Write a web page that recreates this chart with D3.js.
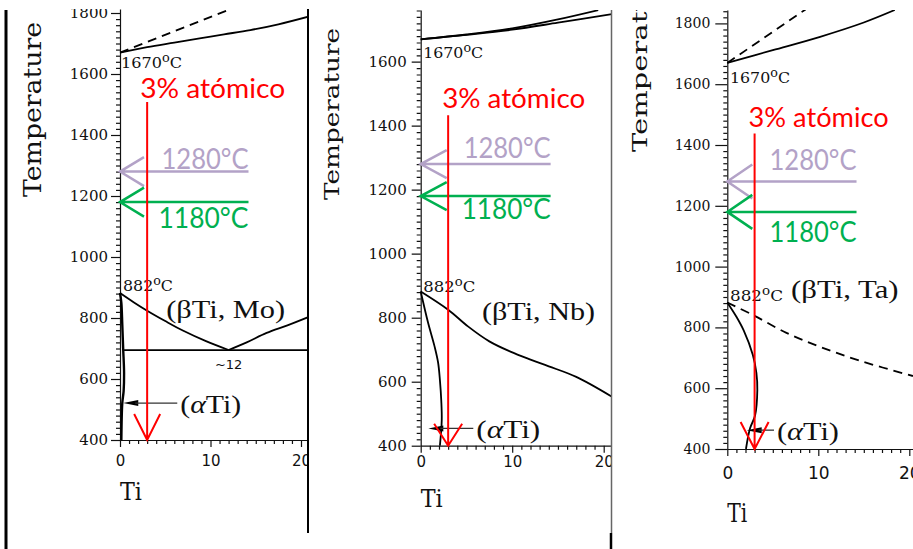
<!DOCTYPE html>
<html lang="es">
<head>
<meta charset="utf-8">
<title>Diagramas de fase Ti–Mo, Ti–Nb, Ti–Ta</title>
<script src="https://cdn.jsdelivr.net/npm/d3@7"></script>
<style>
  html, body { margin: 0; padding: 0; background: #fff; }
  svg { display: block; }
</style>
</head>
<body>
<svg id="chart" width="913" height="549"></svg>
<script>
// ---------- data ----------
// Axis ticks: temperature (°C) and solute content (at.%)
const tempTicks = [400, 600, 800, 1000, 1200, 1400, 1600, 1800];
const compTicks = [0, 10, 20];

const solutes = ["Mo", "Nb", "Ta"];
const betaLabels = ["(βTi, Mo)", "(βTi, Nb)", "(βTi, Ta)"];
const betaLabelAt = [[5.1, 799], [6.7, 793], [7.0, 896]];       // [at.%, °C]
const alphaPointerAt = [[0.36, 521], [0.83, 454], [2.13, 462]]; // [at.%, °C]

const meltTemp = 1670;      // melting point of pure Ti
const transusTemp = 882;    // α/β transus of pure Ti
const eutectoidMo = [12, 695];

const heatTemps = [1280, 1180];
const heatLabels = ["1280°C", "1180°C"];
const heatColors = ["#b3a2c7", "#00b050"];
const heatArrowEnd = 14.2;  // at.%

const alloyContent = 3;     // at.%
const alloyLabel = "3% atómico";
const alloyLineTop = [1508, 1433, 1438];

// Ti–Mo
const moLower = [[0,1670],[3,1688],[6,1703],[8.8,1717],[11.5,1730],[14.4,1744],[17.5,1763],[20.8,1788]];
const moUpper = [[0,1670],[11.8,1808]];
const moBetaTransus = [[0,882],[1.5,852],[3,824],[5,790],[7,758],[9.5,724],[12,695]];
const moBetaRise = [[12,695],[14,720],[16.2,751],[18.5,776],[20.8,803]];
const moEutectoidLine = [[0.45,695],[20.8,695]];
const moAlphaSolvus = [[0,882],[0.15,850],[0.25,780],[0.35,700],[0.45,620],[0.4,560],[0.25,520],[0.15,400]];

// Ti–Nb
const nbUpper = [[0,1670],[5,1685],[10,1704],[15,1732],[19.4,1761]];
const nbLower = [[0,1670],[5,1684],[10,1700],[15,1722],[20.9,1749]];
const nbBetaTransus = [[0,882],[3,825],[5.2,772],[7.5,726],[9.8,694],[12,669],[14,648],[17,615],[20.9,553]];
const nbAlphaSolvus = [[0,882],[0.8,785],[1.5,712],[1.9,660],[2.1,605],[2.25,540],[2.3,480],[2.1,400]];

// Ti–Ta
const taUpper = [[0,1670],[8.6,1846]];
const taLower = [[0,1670],[5,1712],[10.2,1756],[15,1803],[18.4,1844]];
const taBetaTransus = [[0,882],[3,838],[6.5,782],[10.2,736],[14.6,690],[20.4,640]];
const taAlphaSolvus = [[0,882],[1,835],[1.8,790],[2.8,710],[3.2,650],[3.3,594],[3.05,510],[2.5,468],[2.05,400]];

// curve table for each diagram
const panelCurves = [
  [
    { pts: moLower }, { pts: moUpper, dash: "9,6" },
    { pts: moBetaTransus }, { pts: moBetaRise },
    { pts: moEutectoidLine, straight: true }, { pts: moAlphaSolvus, width: 2.4 }
  ],
  [
    { pts: nbUpper }, { pts: nbLower },
    { pts: nbBetaTransus }, { pts: nbAlphaSolvus }
  ],
  [
    { pts: taLower }, { pts: taUpper, dash: "9,6" },
    { pts: taBetaTransus, dash: "9,6" }, { pts: taAlphaSolvus }
  ]
];

// ---------- layout ----------
const SERIF_AXIS = "'DejaVu Serif', serif";
const SERIF_TEXT = "'Liberation Serif', 'Times New Roman', serif";
const SANS_AXIS = "'DejaVu Sans', sans-serif";
const SANS_NOTE = "Lato, 'Open Sans', sans-serif";

const panels = [
  { x0: 120, x20: 301, y400: 440, y1800: 13, top: 9, left: 0, right: 308,
    yTickFont: 15, yTickLen: 9, yTickPad: 3, xTickFont: 15, xTickLen: 7, xTickPad: 8,
    titleX: 41, titleY: 109.5, titleFont: 25, titleLen: 175,
    tiY: 500, tiFont: 24, tiLen: 22,
    meltDx: 1, meltDy: 15.5, meltLen: 61, transusDx: 3, transusDy: -1.5, transusLen: 50,
    betaFont: 26, betaLen: 119,
    alphaFont: 26, alphaLen: 61, pointerLen: 54,
    alloyFont: 27, alloyLen: 145, alloyDx: -7, alloyDy: -4,
    heatFont: 28, heatLens: [87, 90], heatDy: [-3, 26], headDx: 24, headDy: 14.5,
    redDx: 13, redDy: 26 },
  { x0: 420.7, x20: 603.7, y400: 445.7, y1800: -2.3, top: 10, left: 310, right: 611.5,
    yTickFont: 15, yTickLen: 9, yTickPad: 5, xTickFont: 15, xTickLen: 7, xTickPad: 4,
    titleX: 338.5, titleY: 114, titleFont: 20, titleLen: 172,
    tiY: 506.7, tiFont: 24, tiLen: 22,
    meltDx: 2.5, meltDy: 18.7, meltLen: 60, transusDx: 2.6, transusDy: 1, transusLen: 52,
    betaFont: 26, betaLen: 113,
    alphaFont: 26, alphaLen: 64, pointerLen: 45,
    alloyFont: 27, alloyLen: 143, alloyDx: -6, alloyDy: -7,
    heatFont: 28, heatLens: [87, 89], heatDy: [-6.3, 23.3], headDx: 26, headDy: 14,
    redDx: 14, redDy: 22 },
  { x0: 727.3, x20: 909.3, y400: 449, y1800: 23.4, top: 10, left: 615, right: 913,
    yTickFont: 14, yTickLen: 12, yTickPad: 5, xTickFont: 17, xTickLen: 7, xTickPad: 11,
    titleX: 646.7, titleY: 57, titleFont: 20, titleLen: 190,
    tiY: 521.7, tiFont: 26, tiLen: 20,
    meltDx: 2.7, meltDy: 20, meltLen: 60, transusDx: 2.7, transusDy: -1, transusLen: 53,
    betaFont: 26, betaLen: 107.6,
    alphaFont: 26, alphaLen: 62, pointerLen: 27.3,
    alloyFont: 27, alloyLen: 140, alloyDx: -6, alloyDy: -6.6,
    heatFont: 28, heatLens: [87, 87], heatDy: [-11.7, 30.6], headDx: 25, headDy: 17,
    redDx: 14, redDy: 27 }
];

// ---------- drawing ----------
const svg = d3.select("#chart");
const defs = svg.append("defs");
const fmtInt = d3.format("d");

// superscript-o degree notation used on the diagrams, e.g. 1670 °C
function degreeText(sel, value, fs) {
  sel.append("tspan").text(value);
  sel.append("tspan").attr("font-size", fs * 0.8).attr("dy", -fs * 0.42).text("o");
  sel.append("tspan").attr("dy", fs * 0.42).text("C");
}

function drawPanel(p, i) {
  const clipId = "diagram-clip-" + i;
  defs.append("clipPath").attr("id", clipId).append("rect")
    .attr("x", p.left).attr("y", p.top)
    .attr("width", p.right - p.left).attr("height", 549 - p.top);
  const g = svg.append("g").attr("clip-path", `url(#${clipId})`);

  const x = d3.scaleLinear().domain([0, 20]).range([p.x0, p.x20]);
  const y = d3.scaleLinear().domain([400, 1800]).range([p.y400, p.y1800]);
  const xEnd = x.invert(p.right), yEnd = y.invert(p.top);
  const xAx = d3.scaleLinear().domain([0, xEnd]).range([p.x0, p.right]);
  const yAx = d3.scaleLinear().domain([400, yEnd]).range([p.y400, p.top]);

  // --- axes ---
  const yMinor = d3.range(420, yEnd, 20).filter(t => t % 200 !== 0);
  const xMinor = d3.range(1, xEnd, 1).filter(v => v % 10 !== 0);

  const gyMin = g.append("g").attr("transform", `translate(${p.x0},0)`)
    .call(d3.axisLeft(yAx).tickValues(yMinor).tickSize(4).tickFormat(() => "").tickSizeOuter(0));
  gyMin.select(".domain").remove();
  const gxMin = g.append("g").attr("transform", `translate(0,${p.y400})`)
    .call(d3.axisBottom(xAx).tickValues(xMinor).tickSize(4).tickFormat(() => "").tickSizeOuter(0));
  gxMin.select(".domain").remove();

  const gy = g.append("g").attr("transform", `translate(${p.x0},0)`)
    .call(d3.axisLeft(yAx).tickValues(tempTicks.filter(t => t < yEnd + 30))
      .tickFormat(fmtInt).tickSize(p.yTickLen).tickPadding(p.yTickPad).tickSizeOuter(0));
  gy.attr("font-family", SERIF_AXIS).attr("font-size", p.yTickFont);

  const gx = g.append("g").attr("transform", `translate(0,${p.y400})`)
    .call(d3.axisBottom(xAx).tickValues(compTicks).tickFormat(fmtInt)
      .tickSize(p.xTickLen).tickPadding(p.xTickPad).tickSizeOuter(0));
  gx.attr("font-family", SANS_AXIS).attr("font-size", p.xTickFont);

  g.selectAll(".tick line, .domain").attr("stroke", "#111").attr("stroke-width", 1.2);
  g.selectAll(".tick text").attr("fill", "#111");

  // axis titles
  g.append("text")
    .attr("transform", `translate(${p.titleX},${p.titleY}) rotate(-90)`)
    .attr("text-anchor", "middle").attr("font-family", SERIF_AXIS)
    .attr("font-size", p.titleFont).attr("fill", "#111")
    .attr("textLength", p.titleLen).attr("lengthAdjust", "spacingAndGlyphs")
    .text("Temperature");
  g.append("text")
    .attr("x", x(0)).attr("y", p.tiY)
    .attr("font-family", SERIF_AXIS).attr("font-size", p.tiFont).attr("fill", "#111")
    .attr("textLength", p.tiLen).attr("lengthAdjust", "spacingAndGlyphs")
    .text("Ti");

  // --- phase boundaries ---
  panelCurves[i].forEach(c => {
    const gen = d3.line().x(d => x(d[0])).y(d => y(d[1]))
      .curve(c.straight ? d3.curveLinear : d3.curveCatmullRom.alpha(0.5));
    g.append("path").attr("d", gen(c.pts))
      .attr("fill", "none").attr("stroke", "#000")
      .attr("stroke-width", c.width || 1.8)
      .attr("stroke-dasharray", c.dash || null)
      .attr("stroke-linejoin", "round");
  });

  // --- point labels ---
  const mt = g.append("text")
    .attr("x", x(0) + p.meltDx).attr("y", y(meltTemp) + p.meltDy)
    .attr("font-family", SERIF_AXIS).attr("font-size", 15).attr("fill", "#111")
    .attr("textLength", p.meltLen).attr("lengthAdjust", "spacingAndGlyphs");
  degreeText(mt, String(meltTemp), 15);

  const tt = g.append("text")
    .attr("x", x(0) + p.transusDx).attr("y", y(transusTemp) + p.transusDy)
    .attr("font-family", SERIF_AXIS).attr("font-size", 15).attr("fill", "#111")
    .attr("textLength", p.transusLen).attr("lengthAdjust", "spacingAndGlyphs");
  degreeText(tt, String(transusTemp), 15);

  if (i === 0) {
    g.append("text")
      .attr("x", x(eutectoidMo[0])).attr("y", y(eutectoidMo[1]) + 19)
      .attr("text-anchor", "middle").attr("font-family", SANS_AXIS)
      .attr("font-size", 13).attr("fill", "#111")
      .text("~" + eutectoidMo[0]);
  }

  g.append("text")
    .attr("x", x(betaLabelAt[i][0])).attr("y", y(betaLabelAt[i][1]))
    .attr("font-family", SERIF_TEXT).attr("font-size", p.betaFont).attr("fill", "#111")
    .attr("textLength", p.betaLen).attr("lengthAdjust", "spacingAndGlyphs")
    .text(betaLabels[i]);

  // (αTi) with pointer
  const tipX = x(alphaPointerAt[i][0]), tipY = y(alphaPointerAt[i][1]);
  g.append("path")
    .attr("d", `M${tipX},${tipY} L${tipX + 15},${tipY - 3} L${tipX + 15},${tipY + 3} Z`)
    .attr("fill", "#000");
  g.append("line")
    .attr("x1", tipX + 12).attr("y1", tipY)
    .attr("x2", tipX + p.pointerLen).attr("y2", tipY)
    .attr("stroke", "#333").attr("stroke-width", 1.3);
  const at = g.append("text")
    .attr("x", tipX + p.pointerLen + 3).attr("y", tipY + 10)
    .attr("font-family", SERIF_TEXT).attr("font-size", p.alphaFont).attr("fill", "#111")
    .attr("textLength", p.alphaLen).attr("lengthAdjust", "spacingAndGlyphs");
  at.append("tspan").text("(");
  at.append("tspan").attr("font-style", "italic").text("α");
  at.append("tspan").text("Ti)");

  // --- heat-treatment temperatures ---
  heatTemps.forEach((T, k) => {
    const yy = y(T), x0 = x(0), x1 = x(heatArrowEnd);
    g.append("path")
      .attr("d", `M${x0 + p.headDx},${yy - p.headDy} L${x0},${yy} L${x0 + p.headDx},${yy + p.headDy} M${x0},${yy} L${x1},${yy}`)
      .attr("fill", "none").attr("stroke", heatColors[k]).attr("stroke-width", 2.5);
    g.append("text")
      .attr("x", x1).attr("y", yy + p.heatDy[k])
      .attr("text-anchor", "end").attr("font-family", SANS_NOTE)
      .attr("font-size", p.heatFont).attr("fill", heatColors[k])
      .attr("textLength", p.heatLens[k]).attr("lengthAdjust", "spacingAndGlyphs")
      .text(heatLabels[k]);
  });

  // --- alloy composition line ---
  const ax = x(alloyContent), aTop = y(alloyLineTop[i]), aBot = y(400);
  g.append("path")
    .attr("d", `M${ax},${aTop} L${ax},${aBot} M${ax - p.redDx},${aBot - p.redDy} L${ax},${aBot} L${ax + p.redDx},${aBot - p.redDy}`)
    .attr("fill", "none").attr("stroke", "#ff0000").attr("stroke-width", 2);
  g.append("text")
    .attr("x", ax + p.alloyDx).attr("y", aTop + p.alloyDy)
    .attr("font-family", SANS_NOTE).attr("font-size", p.alloyFont).attr("fill", "#ff0000")
    .attr("textLength", p.alloyLen).attr("lengthAdjust", "spacingAndGlyphs")
    .text(alloyLabel);
}

panels.forEach(drawPanel);

// frame lines between the three diagrams
const frame = svg.append("g").attr("stroke", "#000").attr("fill", "none");
frame.append("line").attr("x1", 6).attr("y1", 10).attr("x2", 6).attr("y2", 549).attr("stroke-width", 3);
frame.append("line").attr("x1", 308).attr("y1", 9).attr("x2", 308).attr("y2", 533).attr("stroke-width", 2);
frame.append("line").attr("x1", 611.5).attr("y1", 10).attr("x2", 611.5).attr("y2", 533)
  .attr("stroke", "#666").attr("stroke-width", 1.5);
frame.append("line").attr("x1", 611).attr("y1", 533).attr("x2", 611).attr("y2", 549).attr("stroke-width", 2.5);
</script>
</body>
</html>
